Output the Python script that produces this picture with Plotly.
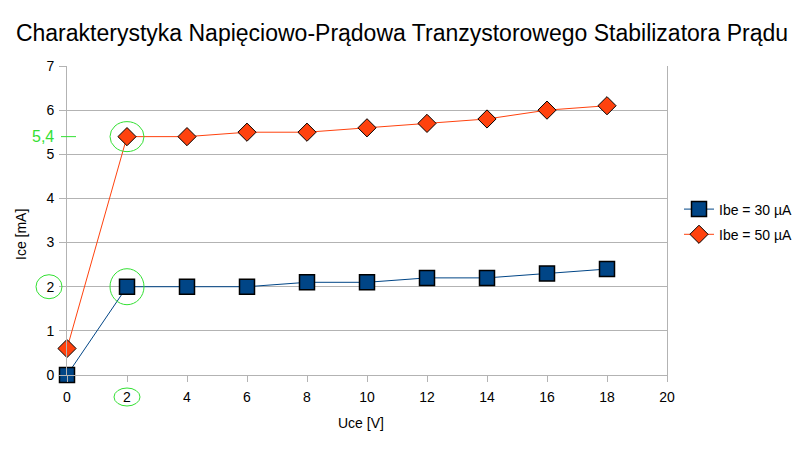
import plotly.graph_objects as go

uce = [0, 2, 4, 6, 8, 10, 12, 14, 16, 18]
ice_30 = [0, 2, 2, 2, 2.1, 2.1, 2.2, 2.2, 2.3, 2.4]
ice_50 = [0.6, 5.4, 5.4, 5.5, 5.5, 5.6, 5.7, 5.8, 6.0, 6.1]
names = ["Ibe = 30 µA", "Ibe = 50 µA"]
title = "Charakterystyka Napięciowo-Prądowa Tranzystorowego Stabilizatora Prądu"
x_title = "Uce [V]"
y_title = "Ice [mA]"

FONT = "Liberation Sans, Arial, sans-serif"
GRID = "#b3b3b3"
GREEN = "#33e033"
PW, PH = 600, 309
OFF = 8  # page body margin offset

fig = go.Figure()
fig.add_trace(go.Scatter(
    x=uce, y=ice_30, name=names[0], mode="lines+markers", legendgroup="a",
    line=dict(color="#004586", width=1),
    marker=dict(symbol="square", size=15, color="#004586", line=dict(color="black", width=1.5)),
    cliponaxis=False,
))
fig.add_trace(go.Scatter(
    x=uce, y=ice_50, name=names[1], mode="lines+markers", legendgroup="b",
    line=dict(color="#ff420e", width=1),
    marker=dict(symbol="diamond", size=14, color="#ff420e", line=dict(color="black", width=1)),
    cliponaxis=False,
))

shapes = [
    dict(type="circle", xref="x", yref="y", xsizemode="pixel", ysizemode="pixel",
         xanchor=uce[1], yanchor=ice_50[1], x0=-17, x1=17, y0=-15, y1=15,
         line=dict(color=GREEN, width=1)),
    dict(type="circle", xref="x", yref="y", xsizemode="pixel", ysizemode="pixel",
         xanchor=uce[1], yanchor=ice_30[1], x0=-17, x1=17, y0=-18, y1=18,
         line=dict(color=GREEN, width=1)),
    dict(type="circle", xref="paper", yref="y", xsizemode="pixel", ysizemode="pixel",
         xanchor=-18 / PW, yanchor=ice_30[1], x0=-13, x1=13, y0=-12, y1=12,
         line=dict(color=GREEN, width=1)),
    dict(type="circle", xref="x", yref="paper", xsizemode="pixel", ysizemode="pixel",
         xanchor=uce[1], yanchor=-22 / PH, x0=-13, x1=13, y0=-9, y1=9,
         line=dict(color=GREEN, width=1)),
    dict(type="line", xref="paper", yref="y", xsizemode="pixel",
         xanchor=0, x0=-6, x1=9, y0=ice_50[1], y1=ice_50[1],
         line=dict(color=GREEN, width=1)),
]

annotations = [
    dict(text="5,4", xref="paper", yref="y", x=-11 / PW, y=ice_50[1],
         xanchor="right", yanchor="middle", showarrow=False,
         font=dict(size=16, color=GREEN, family=FONT)),
    dict(text=x_title, xref="paper", yref="paper", x=(361 - 67) / PW, y=-(423 - 375) / PH,
         xanchor="center", yanchor="middle", showarrow=False, font=dict(size=14)),
    dict(text=y_title, xref="paper", yref="paper", x=(21 - 67) / PW, y=(375 - 235) / PH,
         xanchor="center", yanchor="middle", showarrow=False, textangle=-90, font=dict(size=14)),
]

fig.update_layout(
    width=807, height=457,
    margin=dict(l=67 - OFF, r=807 - 667 + OFF, t=66 - OFF, b=457 - 375 + OFF, autoexpand=False),
    paper_bgcolor="white", plot_bgcolor="white",
    font=dict(family=FONT, size=14, color="black"),
    title=dict(text=title, x=(402 - OFF) / 807, xref="container", xanchor="center",
               y=1 - (33 - OFF) / 457, yref="container", yanchor="middle", automargin=False,
               font=dict(size=23, family=FONT, color="black")),
    xaxis=dict(range=[0, 20], dtick=2, tick0=0, showgrid=False, zeroline=False, automargin=False,
               showline=True, linecolor=GRID, linewidth=1,
               ticks="outside", ticklen=6, tickcolor=GRID, ticklabelstandoff=3),
    yaxis=dict(range=[0, 7], dtick=1, tick0=0, showgrid=True, gridcolor=GRID, zeroline=False,
               automargin=False, showline=True, mirror=True, linecolor=GRID, linewidth=1,
               ticks="outside", ticklen=7, tickcolor=GRID, ticklabelstandoff=2),
    legend=dict(x=(679 - 67) / PW, xanchor="left", y=(375 - 222) / PH, yanchor="middle",
                font=dict(size=14), tracegroupgap=4, bgcolor="rgba(0,0,0,0)"),
    shapes=shapes,
    annotations=annotations,
)

fig.write_html("out.html")
